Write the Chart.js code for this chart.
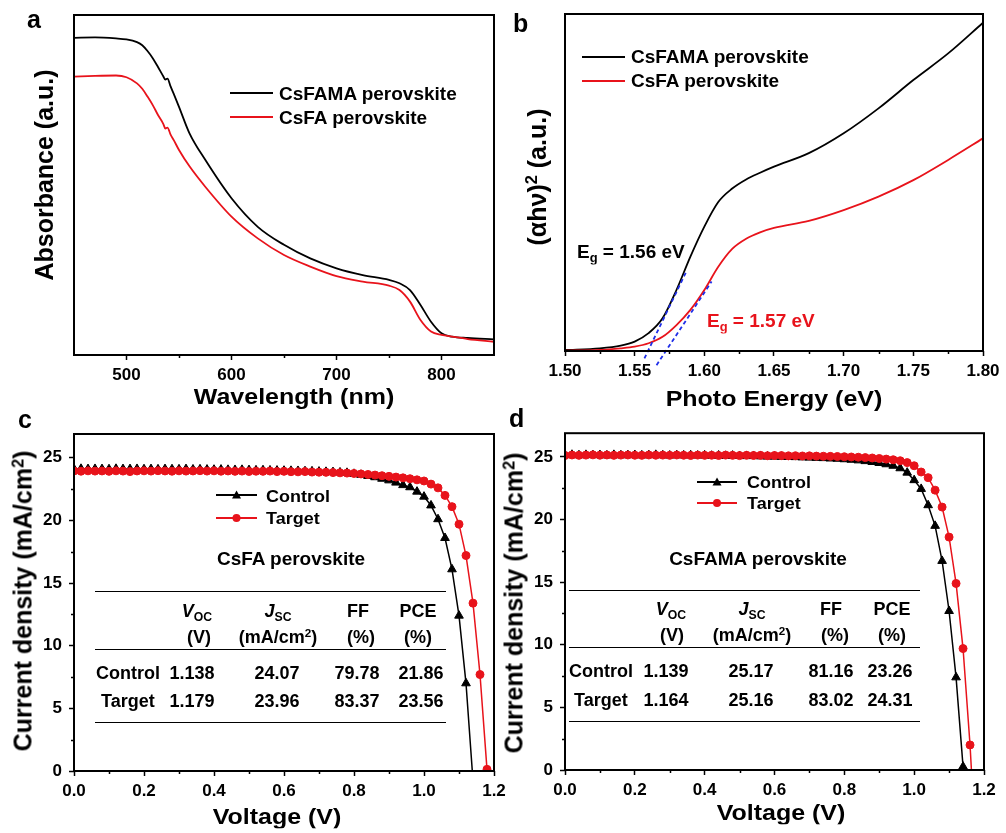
<!DOCTYPE html>
<html>
<head>
<meta charset="utf-8">
<title>Perovskite absorbance, Tauc plot and J-V curves</title>
<script src="https://cdn.jsdelivr.net/npm/chart.js@4.4.1/dist/chart.umd.min.js"></script>
<style>
  body { margin: 0; background: #fff; }
  #fig { position: relative; width: 1006px; height: 833px; overflow: hidden;
         font-family: "Liberation Sans", Arial, sans-serif; font-weight: bold; color: #000; }
  #fig canvas { position: absolute; }
  .t { position: absolute; white-space: nowrap; line-height: 1; }
  .hr { position: absolute; height: 0; border-top: 1.5px solid #000; }
  .t sub { font-size: 0.68em; vertical-align: -0.3em; line-height: 0; font-style: normal; }
  .t sup { font-size: 0.65em; vertical-align: 0.5em; line-height: 0; }
</style>
</head>
<body>
<div id="fig">
  <canvas id="chA" width="503" height="420" style="left:0;top:0"></canvas>
  <canvas id="chB" width="516" height="420" style="left:490px;top:0"></canvas>
  <canvas id="chC" width="520" height="417" style="left:0;top:416px"></canvas>
  <canvas id="chD" width="516" height="417" style="left:490px;top:416px"></canvas>
</div>
<script>
// ---- a: UV-vis absorbance (a.u., 0-100 of the frame) ----
const wavelength = [450, 470, 490, 500, 510, 515, 520, 525, 530, 535, 537, 539, 542, 545, 550, 560, 575, 600, 625, 650,
                    675, 700, 725, 750, 760, 770, 780, 790, 800, 810, 825, 850];
const absCsFAMA = [93.3, 93.4, 93.1, 92.8, 92.0, 91.1, 89.4, 87.3, 84.7, 82.0, 81.0, 81.3, 79.0, 76.8, 73.0, 65.2, 57.4, 46.1, 37.7, 32.4,
                   28.4, 25.5, 23.5, 22.1, 21.1, 19.1, 14.7, 9.8, 6.4, 5.4, 5.0, 4.6];
const absCsFA = [81.9, 82.1, 82.2, 81.7, 79.9, 78.3, 76.0, 73.5, 70.6, 68.0, 66.6, 66.9, 64.8, 63.2, 60.3, 55.5, 49.5, 40.7, 34.3, 29.4,
                 26.0, 23.2, 21.6, 20.4, 19.1, 15.7, 10.3, 6.9, 5.9, 5.4, 4.7, 3.9];
const wlTicks = [500, 600, 700, 800];
const wlMinor = [550, 650, 750];

// ---- b: Tauc plot ----
const energy = [1.50, 1.525, 1.54, 1.55, 1.56, 1.57, 1.58, 1.59, 1.60, 1.61, 1.62, 1.63, 1.64, 1.65, 1.675, 1.70, 1.725, 1.75, 1.775, 1.80];
const taucCsFAMA = [0.3, 0.8, 1.6, 2.8, 5.3, 9.7, 18.1, 28.0, 36.9, 44.2, 48.2, 50.9, 52.9, 54.7, 58.7, 64.6, 72.0, 80.4, 88.3, 97.4];
const taucCsFA = [0.1, 0.3, 0.8, 1.3, 2.3, 4.2, 7.7, 12.2, 18.1, 25.0, 30.3, 33.3, 35.2, 36.5, 38.6, 41.8, 45.8, 50.7, 56.7, 63.1];
const fitCsFAMAx = [1.557, 1.587], fitCsFAMAy = [-2.2, 23.5];
const fitCsFAx = [1.5657, 1.6052], fitCsFAy = [-4.2, 20.6];
const eTicks = [1.50, 1.55, 1.60, 1.65, 1.70, 1.75, 1.80];
const eMinor = [1.525, 1.575, 1.625, 1.675, 1.725, 1.775];

// ---- c, d: J-V curves ----
const voltage = [0.00, 0.02, 0.04, 0.06, 0.08, 0.10, 0.12, 0.14, 0.16, 0.18, 0.20, 0.22, 0.24, 0.26, 0.28, 0.30, 0.32, 0.34, 0.36, 0.38,
                 0.40, 0.42, 0.44, 0.46, 0.48, 0.50, 0.52, 0.54, 0.56, 0.58, 0.60, 0.62, 0.64, 0.66, 0.68, 0.70, 0.72, 0.74, 0.76, 0.78,
                 0.80, 0.82, 0.84, 0.86, 0.88, 0.90, 0.92, 0.94, 0.96, 0.98, 1.00, 1.02, 1.04, 1.06, 1.08, 1.10, 1.12, 1.14, 1.16, 1.18];
const jCsFAControl = [24.10, 24.12, 24.10, 24.11, 24.10, 24.09, 24.12, 24.10, 24.10, 24.11, 24.09, 24.10, 24.08, 24.10, 24.09, 24.08, 24.10, 24.07, 24.08, 24.06,
                      24.05, 24.06, 24.04, 24.03, 24.04, 24.02, 24.00, 24.01, 23.99, 23.98, 23.97, 23.96, 23.95, 23.93, 23.92, 23.90, 23.88, 23.86, 23.83, 23.80,
                      23.72, 23.64, 23.55, 23.45, 23.33, 23.20, 23.02, 22.82, 22.65, 22.30, 21.90, 21.20, 20.10, 18.60, 16.10, 12.40, 7.00];
const jCsFATarget = [23.95, 23.93, 23.96, 23.94, 23.95, 23.92, 23.96, 23.94, 23.90, 23.95, 23.96, 23.94, 23.97, 23.95, 23.93, 23.96, 23.94, 23.95, 23.97, 23.94,
                     23.96, 23.93, 23.95, 23.92, 23.94, 23.91, 23.93, 23.92, 23.94, 23.90, 23.92, 23.89, 23.88, 23.90, 23.86, 23.85, 23.84, 23.82, 23.80, 23.78,
                     23.75, 23.71, 23.67, 23.62, 23.57, 23.52, 23.46, 23.40, 23.33, 23.24, 23.15, 22.90, 22.60, 22.00, 21.10, 19.70, 17.20, 13.40, 7.70, 0.13];
const jCsFAMAControl = [25.15, 25.18, 25.14, 25.17, 25.15, 25.16, 25.13, 25.17, 25.14, 25.15, 25.16, 25.13, 25.15, 25.17, 25.14, 25.12, 25.15, 25.13, 25.14, 25.12,
                        25.13, 25.10, 25.12, 25.09, 25.11, 25.08, 25.07, 25.08, 25.05, 25.04, 25.03, 25.02, 25.00, 24.99, 24.97, 24.95, 24.93, 24.91, 24.88, 24.86,
                        24.82, 24.78, 24.73, 24.67, 24.60, 24.52, 24.42, 24.30, 24.10, 23.75, 23.15, 22.45, 21.15, 19.50, 16.70, 12.70, 7.40, 0.27];
const jCsFAMATarget = [25.12, 25.16, 25.13, 25.15, 25.17, 25.14, 25.16, 25.13, 25.15, 25.16, 25.14, 25.13, 25.16, 25.14, 25.15, 25.13, 25.16, 25.14, 25.12, 25.15,
                       25.13, 25.14, 25.12, 25.15, 25.13, 25.11, 25.14, 25.12, 25.13, 25.10, 25.12, 25.11, 25.09, 25.10, 25.08, 25.09, 25.07, 25.06, 25.05, 25.04,
                       25.02, 25.00, 24.98, 24.95, 24.92, 24.88, 24.83, 24.78, 24.70, 24.55, 24.30, 23.80, 23.35, 22.35, 21.00, 18.60, 14.90, 9.70, 2.00];
// open-circuit end points where the line meets J = 0 between markers
const vocCsFAControl = 1.138;
const vocCsFAMATarget = 1.164;
const vTicks = [0.0, 0.2, 0.4, 0.6, 0.8, 1.0, 1.2];
const vMinor = [0.1, 0.3, 0.5, 0.7, 0.9, 1.1];
const jTicks = [0, 5, 10, 15, 20, 25];
const jMinor = [2.5, 7.5, 12.5, 17.5, 22.5];

const RED = '#e8131b';
const BLUE = '#1f2ee8';

Chart.defaults.font.family = '"Liberation Sans", Arial, sans-serif';
Chart.defaults.font.size = 17;
Chart.defaults.font.weight = 'bold';
Chart.defaults.color = '#000';

// frame box + minor ticks
const frame = {
    id: 'frame',
    afterDraw(chart, args, o) {
        const { ctx, chartArea: a, scales } = chart;
        ctx.save();
        ctx.strokeStyle = '#000';
        ctx.lineWidth = 1.5;
        ctx.beginPath();
        (o.minorX || []).forEach(v => {
            const p = Math.round(scales.x.getPixelForValue(v)) + 0.5;
            ctx.moveTo(p, a.bottom); ctx.lineTo(p, a.bottom + 3);
        });
        (o.minorY || []).forEach(v => {
            const p = Math.round(scales.y.getPixelForValue(v)) + 0.5;
            ctx.moveTo(a.left, p); ctx.lineTo(a.left - 3, p);
        });
        ctx.stroke();
        ctx.lineWidth = 2;
        ctx.strokeRect(a.left, a.top, a.right - a.left, a.bottom - a.top);
        ctx.restore();
    }
};
Chart.register(frame);

function tickedAxis(min, max, major, fmt, fixSize) {
    return {
        type: 'linear', min: min, max: max,
        afterBuildTicks: s => { s.ticks = major.map(v => ({ value: v })); },
        afterFit: fixSize,
        ticks: { callback: fmt, padding: 5, autoSkip: false, maxRotation: 0 },
        grid: { drawOnChartArea: false, tickLength: 5, tickWidth: 1.5, tickColor: '#000', color: '#000' },
        border: { display: false }
    };
}

// g: canvas W,H and plot area l,t,r,b inside it
function makeChart(id, g, datasets, xAxis, yAxis, minorX, minorY) {
    return new Chart(document.getElementById(id), {
        type: 'line',
        data: { datasets: datasets },
        options: {
            responsive: false, animation: false, events: [],
            layout: { padding: { left: yAxis.display === false ? g.l : 0, top: g.t, right: g.W - g.r, bottom: 0 } },
            plugins: { legend: { display: false }, tooltip: { enabled: false },
                       frame: { minorX: minorX, minorY: minorY } },
            scales: { x: xAxis, y: yAxis }
        }
    });
}

const pts = (xs, ys) => ys.map((y, i) => ({ x: xs[i], y: y }));
const curve = (xs, ys, color) => ({
    data: pts(xs, ys), borderColor: color, borderWidth: 1.8, pointRadius: 0,
    cubicInterpolationMode: 'monotone'
});

// ---- panel a ----
const gA = { W: 503, H: 420, l: 74, t: 15, r: 494, b: 355 };
makeChart('chA', gA,
    [curve(wavelength, absCsFA, RED), curve(wavelength, absCsFAMA, '#000')],
    tickedAxis(450, 850, wlTicks, v => String(v), s => { s.height = gA.H - gA.b; }),
    { display: false, min: 0, max: 100 },
    wlMinor, []);

// ---- panel b ----
const gB = { W: 516, H: 420, l: 75, t: 14, r: 493, b: 351 };
const fitLine = (xs, ys) => ({
    data: pts(xs, ys), borderColor: BLUE, borderWidth: 1.8, borderDash: [4, 3],
    pointRadius: 0, clip: false
});
makeChart('chB', gB,
    [fitLine(fitCsFAMAx, fitCsFAMAy), fitLine(fitCsFAx, fitCsFAy),
     curve(energy, taucCsFA, RED), curve(energy, taucCsFAMA, '#000')],
    tickedAxis(1.5, 1.8, eTicks, v => v.toFixed(2), s => { s.height = gB.H - gB.b; }),
    { display: false, min: 0, max: 100 },
    eMinor, []);

// ---- panels c, d ----
function jvSet(ys, color, shape, voc, order) {
    const data = pts(voltage, ys);
    if (voc !== null) data.push({ x: voc, y: 0, end: true });
    return {
        data: data, borderColor: color, backgroundColor: color, borderWidth: 1.5,
        pointStyle: shape, pointBorderWidth: 1,
        pointRadius: c => (c.raw && c.raw.end) ? 0 : (shape === 'triangle' ? 5 : 4),
        order: order
    };
}
const gC = { W: 520, H: 417, l: 74, t: 18, r: 494, b: 355 };
makeChart('chC', gC,
    [jvSet(jCsFATarget, RED, 'circle', null, 1), jvSet(jCsFAControl, '#000', 'triangle', vocCsFAControl, 2)],
    tickedAxis(0, 1.2, vTicks, v => v.toFixed(1), s => { s.height = gC.H - gC.b; }),
    Object.assign(tickedAxis(0, 26.9, jTicks, v => String(v), s => { s.width = gC.l; }), { ticks: { callback: v => String(v), padding: 7 } }),
    vMinor, jMinor);

const gD = { W: 516, H: 417, l: 75, t: 17, r: 494, b: 354 };
makeChart('chD', gD,
    [jvSet(jCsFAMATarget, RED, 'circle', vocCsFAMATarget, 1), jvSet(jCsFAMAControl, '#000', 'triangle', null, 2)],
    tickedAxis(0, 1.2, vTicks, v => v.toFixed(1), s => { s.height = gD.H - gD.b; }),
    Object.assign(tickedAxis(0, 26.9, jTicks, v => String(v), s => { s.width = gD.l; }), { ticks: { callback: v => String(v), padding: 7 } }),
    vMinor, jMinor);

// ---- text overlays ----
const fig = document.getElementById('fig');
function txt(x, base, html, size, opt = {}) {
    const el = document.createElement('div');
    el.className = 't';
    el.innerHTML = html;
    el.style.fontSize = size + 'px';
    el.style.left = x + 'px';
    el.style.top = (base - 0.85 * size) + 'px';
    if (opt.color) el.style.color = opt.color;
    el.style.transformOrigin = '50% 85%';
    el.style.transform = (opt.center ? 'translateX(-50%) ' : '') + 'scaleY(' + (opt.sy || 1) + ')';
    fig.appendChild(el);
}
function vtxt(cx, cy, html, size) {
    const el = document.createElement('div');
    el.className = 't';
    el.innerHTML = html;
    el.style.fontSize = size + 'px';
    el.style.left = cx + 'px';
    el.style.top = cy + 'px';
    el.style.transform = 'translate(-50%,-50%) rotate(-90deg)';
    fig.appendChild(el);
}
function hr(x1, x2, y, color, w) {
    const el = document.createElement('div');
    el.className = 'hr';
    el.style.left = x1 + 'px';
    el.style.width = (x2 - x1) + 'px';
    el.style.top = (y - (w || 1.5) / 2) + 'px';
    el.style.borderTop = (w || 1.5) + 'px solid ' + (color || '#000');
    fig.appendChild(el);
}
function sample(x1, x2, y, color, shape) {
    const w = x2 - x1, m = w / 2;
    const mark = shape === 'triangle'
        ? `<polygon points="${m},1.5 ${m + 4.5},9.5 ${m - 4.5},9.5" fill="${color}"/>`
        : `<circle cx="${m}" cy="6" r="4" fill="${color}"/>`;
    fig.insertAdjacentHTML('beforeend',
        `<svg width="${w}" height="12" style="position:absolute;left:${x1}px;top:${y - 6}px">` +
        `<line x1="0" y1="6" x2="${w}" y2="6" stroke="${color}" stroke-width="2"/>${mark}</svg>`);
}

// panel letters
txt(27, 28, 'a', 25);
txt(513, 32, 'b', 25);
txt(18, 428, 'c', 25);
txt(509, 427, 'd', 25);

// axis titles
txt(294, 404, 'Wavelength (nm)', 25, { center: true, sy: 0.85 });
vtxt(44, 175, 'Absorbance (a.u.)', 25);
txt(774, 406, 'Photo Energy (eV)', 25, { center: true, sy: 0.85 });
vtxt(537, 177, '(&alpha;h&nu;)<sup>2</sup> (a.u.)', 25);
txt(277, 824, 'Voltage (V)', 25, { center: true, sy: 0.85 });
vtxt(23, 601, 'Current density (mA/cm<sup>2</sup>)', 25);
txt(781, 820, 'Voltage (V)', 25, { center: true, sy: 0.85 });
vtxt(514, 603, 'Current density (mA/cm<sup>2</sup>)', 25);

// legends a, b
hr(230, 273, 93, '#000', 2); txt(279, 100, 'CsFAMA perovskite', 19, { sy: 0.92 });
hr(230, 273, 117, RED, 2);   txt(279, 124, 'CsFA perovskite', 19, { sy: 0.92 });
hr(582, 625, 57, '#000', 2); txt(631, 63, 'CsFAMA perovskite', 19, { sy: 0.92 });
hr(582, 625, 81, RED, 2);    txt(631, 87, 'CsFA perovskite', 19, { sy: 0.92 });
txt(577, 258, 'E<sub>g</sub> = 1.56 eV', 19, { sy: 0.92 });
txt(707, 327, 'E<sub>g</sub> = 1.57 eV', 19, { sy: 0.92, color: RED });

// legends c, d
sample(216, 257, 495, '#000', 'triangle'); txt(266, 502, 'Control', 18, { sy: 0.92 });
sample(216, 257, 518, RED, 'circle');      txt(266, 524, 'Target', 18, { sy: 0.92 });
sample(697, 737, 482, '#000', 'triangle'); txt(747, 488, 'Control', 18, { sy: 0.92 });
sample(697, 737, 503, RED, 'circle');      txt(747, 509, 'Target', 18, { sy: 0.92 });

// tables
const VOC = '<i>V</i><sub>OC</sub>', JSC = '<i>J</i><sub>SC</sub>';
function table(o) {
    txt(o.title[0], o.title[1], o.name, 19, { center: true, sy: 0.92 });
    hr(o.x1, o.x2, o.lines[0]); hr(o.x1, o.x2, o.lines[1]); hr(o.x1, o.x2, o.lines[2]);
    const heads = [VOC, JSC, 'FF', 'PCE'], units = ['(V)', '(mA/cm<sup>2</sup>)', '(%)', '(%)'];
    heads.forEach((h, i) => txt(o.head[i], o.hb[0], h, 18, { center: true }));
    units.forEach((u, i) => txt(o.unit[i], o.hb[1], u, 18, { center: true }));
    o.rows.forEach((r, k) => {
        txt(o.rowX[k], o.rb[k], r[0], 18);
        r.slice(1).forEach((v, i) => txt(o.col[i], o.rb[k], v, 18, { center: true }));
    });
}
table({
    name: 'CsFA perovskite', title: [291, 565], x1: 95, x2: 446, lines: [592, 650, 723],
    head: [197, 278, 358, 418], unit: [199, 278, 361, 418], hb: [617, 643],
    col: [192, 277, 357, 421], rowX: [96, 101], rb: [679, 707],
    rows: [['Control', '1.138', '24.07', '79.78', '21.86'], ['Target', '1.179', '23.96', '83.37', '23.56']]
});
table({
    name: 'CsFAMA perovskite', title: [758, 565], x1: 569, x2: 920, lines: [591, 648, 722],
    head: [671, 752, 831, 892], unit: [672, 752, 835, 892], hb: [615, 641],
    col: [666, 751, 831, 890], rowX: [569, 574], rb: [677, 706],
    rows: [['Control', '1.139', '25.17', '81.16', '23.26'], ['Target', '1.164', '25.16', '83.02', '24.31']]
});
</script>
</body>
</html>
